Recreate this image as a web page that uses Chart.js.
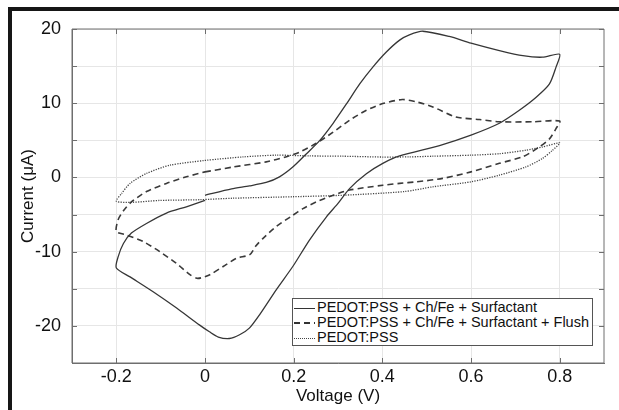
<!DOCTYPE html>
<html>
<head>
<meta charset="utf-8">
<script src="https://cdn.jsdelivr.net/npm/chart.js@4.4.0/dist/chart.umd.min.js"></script>
<style>
  html, body { margin: 0; padding: 0; background: #fff; }
  #wrap { position: relative; width: 619px; height: 410px; overflow: hidden; }
  #wrap canvas { position: absolute; left: 0; top: 0; }
  .frame { position: absolute; background: #161616; }
  #legend {
    position: absolute; left: 292px; top: 298px; width: 299px; height: 46px;
    border: 1px solid #555; background: #fff;
    font: 14.5px 'Liberation Sans', Arial, sans-serif; color: #111;
  }
  .row { position: absolute; left: 0; height: 15px; line-height: 15px; white-space: nowrap; }
  .sample { display: inline-block; width: 21px; vertical-align: middle; margin: 0 2px 0 1px; }
  .s-solid { height: 1.3px; background: #333; }
  .s-dash { height: 1.6px; background: repeating-linear-gradient(90deg, #333 0 6px, transparent 6px 10px); }
  .s-dot { height: 1.2px; background: repeating-linear-gradient(90deg, #444 0 1px, transparent 1px 2px); }
</style>
</head>
<body>
<div id="wrap">
  <canvas id="cvChart" width="619" height="410"></canvas>
  <div class="frame" style="left:8px; top:7px; width:611px; height:4px;"></div>
  <div class="frame" style="left:8px; top:7px; width:4px; height:403px;"></div>
  <div id="legend">
    <div class="row" style="top:1px;"><span class="sample s-solid"></span><span id="lg0"></span></div>
    <div class="row" style="top:16px;"><span class="sample s-dash"></span><span id="lg1"></span></div>
    <div class="row" style="top:31px;"><span class="sample s-dot"></span><span id="lg2"></span></div>
  </div>
</div>
<script>
const seriesNames = [
    'PEDOT:PSS + Ch/Fe + Surfactant',
    'PEDOT:PSS + Ch/Fe + Surfactant + Flush',
    'PEDOT:PSS'
];

const xTickValues = [-0.2, 0, 0.2, 0.4, 0.6, 0.8];
const xTickLabels = ['-0.2', '0', '0.2', '0.4', '0.6', '0.8'];
const yTickValues = [-20, -15, -10, -5, 0, 5, 10, 15, 20];
const yTickLabels = ['-20', '', '-10', '', '0', '', '10', '', '20'];

// Surfactant (solid)
const voltageSurf = [
    0.000, 0.060, 0.100, 0.138, 0.168, 0.198, 0.229, 0.259, 0.289, 0.319, 0.349, 0.379, 0.409, 0.439, 0.461, 0.491,
    0.551, 0.600, 0.664, 0.717, 0.761, 0.800,
    0.792, 0.777, 0.747, 0.709, 0.664, 0.600, 0.529, 0.439, 0.401, 0.364, 0.326, 0.300, 0.274, 0.236, 0.198, 0.161,
    0.123, 0.100, 0.078, 0.055, 0.030, 0.010, -0.012, -0.064, -0.117, -0.169, -0.200,
    -0.196, -0.184, -0.166, -0.132, -0.087, -0.042, 0.000
];
const currentSurf = [
    -2.4, -1.55, -1.15, -0.68, 0.08, 1.4, 3.2, 5.0, 7.3, 9.9, 12.6, 14.9, 16.9, 18.5, 19.2, 19.7,
    19.0, 18.1, 17.1, 16.4, 16.2, 16.6,
    14.9, 12.6, 10.8, 9.05, 7.3, 5.7, 4.3, 2.9, 1.9, 0.5, -1.5, -3.5, -5.3, -8.4, -12.0, -15.1,
    -18.5, -20.3, -21.2, -21.7, -21.5, -20.8, -19.9, -17.6, -15.4, -13.4, -12.2,
    -10.7, -8.9, -7.5, -6.2, -4.8, -3.95, -3.1
];

// Surfactant + Flush (dashed)
const voltageFlush = [
    0.000, 0.063, 0.138, 0.184, 0.213, 0.251, 0.289, 0.326, 0.364, 0.401, 0.445, 0.476, 0.514, 0.566, 0.619, 0.664,
    0.739, 0.800,
    0.792, 0.777, 0.754, 0.717, 0.664, 0.600, 0.536, 0.476, 0.439, 0.401, 0.326, 0.289, 0.251, 0.221, 0.198, 0.161,
    0.131, 0.115, 0.101, 0.071, 0.041, 0.011, -0.016, -0.034, -0.064, -0.102, -0.139, -0.177, -0.200,
    -0.196, -0.184, -0.166, -0.132, -0.087, -0.042, 0.000
];
const currentFlush = [
    0.75, 1.4, 2.1, 2.8, 3.4, 4.6, 6.1, 7.7, 9.05, 9.95, 10.5, 10.2, 9.5, 8.15, 7.8, 7.5,
    7.5, 7.6,
    6.6, 5.2, 4.1, 2.8, 1.9, 0.75, -0.13, -0.6, -0.8, -1.05, -1.7, -2.4, -3.3, -4.2, -5.1, -6.6,
    -8.2, -9.2, -10.4, -10.9, -12.0, -13.1, -13.6, -13.1, -11.6, -10.0, -8.65, -7.75, -7.3,
    -5.7, -4.5, -3.3, -1.9, -0.8, 0.08, 0.75
];

// PEDOT:PSS only (dotted)
const voltagePss = [
    0.000, 0.086, 0.161, 0.236, 0.311, 0.400, 0.461, 0.514, 0.600, 0.664, 0.724, 0.761, 0.800,
    0.784, 0.761, 0.724, 0.664, 0.600, 0.514, 0.450, 0.311, 0.198, 0.063, -0.012, -0.102, -0.166, -0.200,
    -0.188, -0.169, -0.132, -0.079, 0.000
];
const currentPss = [
    2.3, 2.77, 3.0, 2.9, 2.86, 2.75, 2.77, 2.86, 3.0, 3.2, 3.67, 4.1, 4.65,
    3.67, 2.55, 1.42, 0.31, -0.59, -1.26, -1.9, -2.4, -2.6, -2.8, -3.0, -3.1, -3.35, -3.2,
    -2.15, -0.8, 0.54, 1.65, 2.3
];

function toPoints(xs, ys) {
    return xs.map((x, i) => ({ x: x, y: ys[i] }));
}

seriesNames.forEach((name, i) => {
    document.getElementById('lg' + i).textContent = name;
});

const FONT = "'Liberation Sans', Arial, sans-serif";

// MATLAB-style box with inward ticks on all four sides
const innerTicks = {
    id: 'innerTicks',
    afterDraw(chart) {
        const { ctx, chartArea: a, scales } = chart;
        const x = scales.x, y = scales.y;
        ctx.save();
        ctx.strokeStyle = '#6e6e6e';
        ctx.lineWidth = 1;
        ctx.beginPath();
        ctx.rect(a.left, a.top, a.right - a.left, a.bottom - a.top);
        xTickValues.forEach(v => {
            const px = Math.round(x.getPixelForValue(v)) + 0.5;
            ctx.moveTo(px, a.bottom); ctx.lineTo(px, a.bottom - 5);
            ctx.moveTo(px, a.top); ctx.lineTo(px, a.top + 5);
        });
        yTickValues.forEach(v => {
            const py = Math.round(y.getPixelForValue(v)) + 0.5;
            ctx.moveTo(a.left, py); ctx.lineTo(a.left + 5, py);
            ctx.moveTo(a.right, py); ctx.lineTo(a.right - 5, py);
        });
        ctx.stroke();
        ctx.restore();
    }
};

const ctx = document.getElementById('cvChart').getContext('2d');
window.cvChart = new Chart(ctx, {
    type: 'scatter',
    data: {
        datasets: [{
            label: seriesNames[0],
            data: toPoints(voltageSurf, currentSurf),
            showLine: true,
            borderColor: '#363636',
            borderWidth: 1.3,
            pointRadius: 0,
            tension: 0.25,
            fill: false
        }, {
            label: seriesNames[1],
            data: toPoints(voltageFlush, currentFlush),
            showLine: true,
            borderColor: '#3a3a3a',
            borderWidth: 1.6,
            borderDash: [6, 4],
            pointRadius: 0,
            tension: 0.25,
            fill: false
        }, {
            label: seriesNames[2],
            data: toPoints(voltagePss, currentPss),
            showLine: true,
            borderColor: '#444444',
            borderWidth: 1.3,
            borderDash: [1.2, 1.3],
            pointRadius: 0,
            tension: 0.25,
            fill: false
        }]
    },
    options: {
        responsive: false,
        animation: false,
        layout: { padding: { left: 0, right: 15, top: 29, bottom: 0 } },
        plugins: {
            legend: { display: false },
            tooltip: { enabled: false }
        },
        scales: {
            x: {
                type: 'linear',
                min: -0.3,
                max: 0.9,
                afterBuildTicks: s => { s.ticks = xTickValues.map(v => ({ value: v })); },
                afterFit: s => { s.height = 47; },
                ticks: {
                    callback: v => xTickLabels[xTickValues.indexOf(v)],
                    font: { family: FONT, size: 18 },
                    color: '#111',
                    padding: 3,
                    maxRotation: 0,
                    autoSkip: false
                },
                grid: { color: '#e6e6e6', drawTicks: false },
                border: { color: '#6e6e6e' },
                title: {
                    display: true,
                    text: 'Voltage (V)',
                    font: { family: FONT, size: 17 },
                    color: '#111',
                    padding: { top: 0, bottom: 3 }
                }
            },
            y: {
                type: 'linear',
                min: -25,
                max: 20,
                afterBuildTicks: s => { s.ticks = yTickValues.map(v => ({ value: v })); },
                afterFit: s => { s.width = 72; },
                ticks: {
                    callback: v => yTickLabels[yTickValues.indexOf(v)],
                    font: { family: FONT, size: 18 },
                    color: '#111',
                    padding: 11,
                    autoSkip: false
                },
                grid: { color: '#e6e6e6', drawTicks: false },
                border: { color: '#6e6e6e' },
                title: {
                    display: true,
                    text: 'Current (μA)',
                    font: { family: FONT, size: 17 },
                    color: '#111',
                    padding: { top: 18, bottom: 0 }
                }
            }
        }
    },
    plugins: [innerTicks]
});
</script>
</body>
</html>
